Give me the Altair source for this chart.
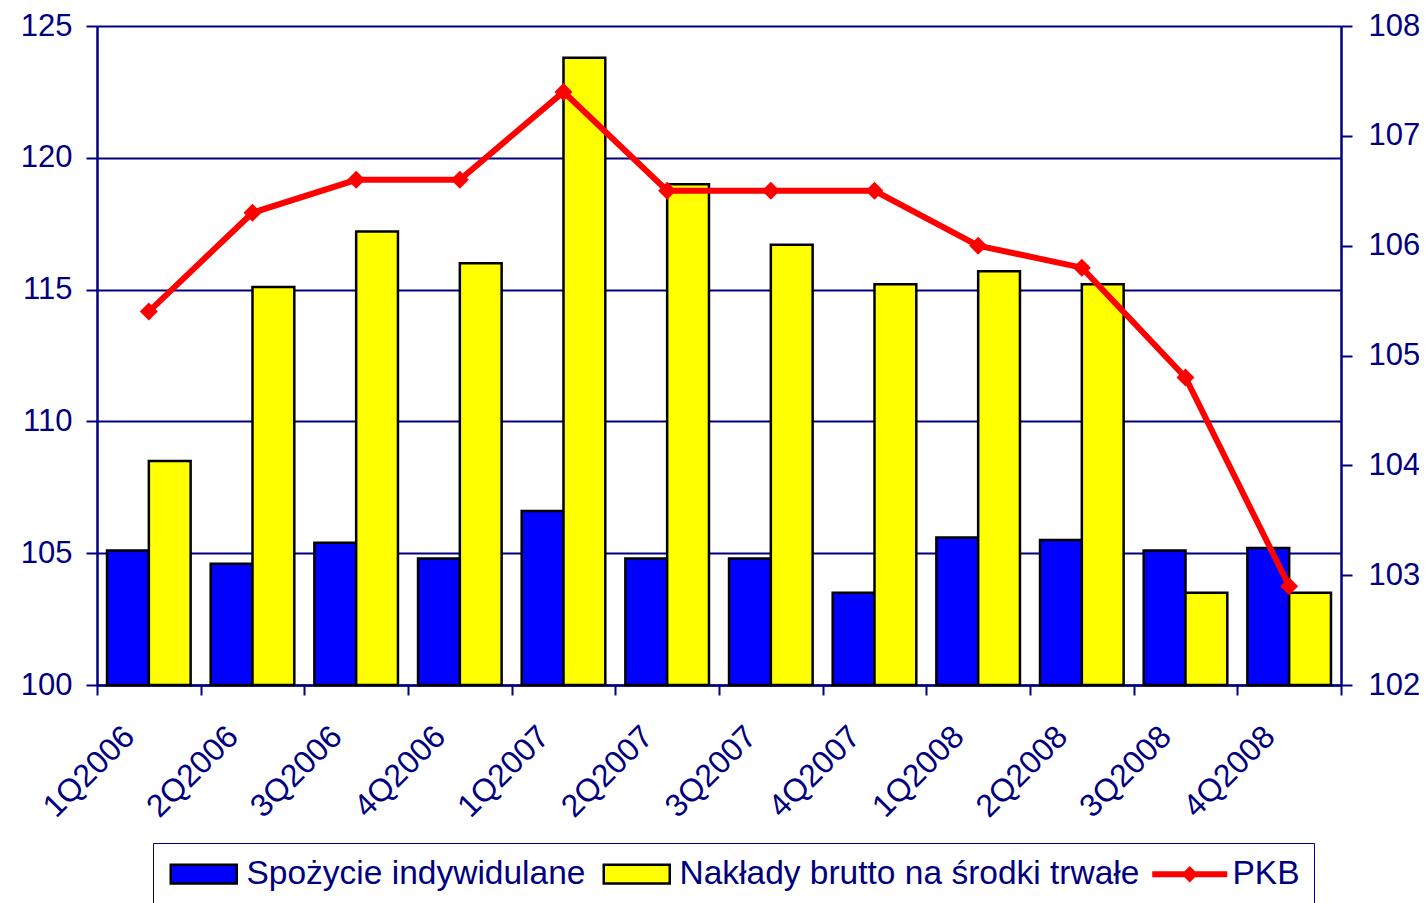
import altair as alt
import pandas as pd

quarters = ["1Q2006", "2Q2006", "3Q2006", "4Q2006", "1Q2007", "2Q2007",
            "3Q2007", "4Q2007", "1Q2008", "2Q2008", "3Q2008", "4Q2008"]
spozycie = [105.1, 104.6, 105.4, 104.8, 106.6, 104.8, 104.8, 103.5, 105.6, 105.5, 105.1, 105.2]
naklady = [108.5, 115.1, 117.2, 116.0, 123.8, 119.0, 116.7, 115.2, 115.7, 115.2, 103.5, 103.5]
pkb = [105.4, 106.3, 106.6, 106.6, 107.4, 106.5, 106.5, 106.5, 106.0, 105.8, 104.8, 102.9]

series_names = ["Spożycie indywidulane", "Nakłady brutto na środki trwałe", "PKB"]
series_colors = ["#0000ff", "#ffff00", "#ff0000"]
series_strokes = ["#000000", "#000000", "#ff0000"]
left_ticks = [100, 105, 110, 115, 120, 125]
right_ticks = [102, 103, 104, 105, 106, 107, 108]

NAVY = "#000080"
FONT = "Liberation Sans"

bars_df = pd.DataFrame(
    [{"q": q, "series": series_names[0], "value": v} for q, v in zip(quarters, spozycie)]
    + [{"q": q, "series": series_names[1], "value": v} for q, v in zip(quarters, naklady)]
)
line_df = pd.DataFrame({"q": quarters, "series": series_names[2], "value": pkb})

color_scale = alt.Scale(domain=series_names, range=series_colors)
stroke_scale = alt.Scale(domain=series_names, range=series_strokes)


def make_legend():
    return alt.Legend(
        title=None,
        orient="none",
        legendX=56,
        legendY=817,
        direction="horizontal",
        columns=3,
        labelFont=FONT,
        labelFontSize=33.5,
        labelColor=NAVY,
        labelLimit=2000,
        labelOffset=26,
        columnPadding=12,
        padding=14,
        strokeColor=NAVY,
        fillColor="white",
        symbolSize=900,
        symbolOffset=20,
        symbolType={"expr": "datum.index === 2 ? 'M-2.5,-0.2H2.5V0.2H-2.5Z M0,-0.55L0.55,0L0,0.55L-0.55,0Z' : 'M-2.2,-0.62H2.2V0.62H-2.2Z'"},
        symbolStrokeWidth={"expr": "datum.index === 2 ? 0 : 2.5"},
        symbolOpacity=1,
    )


x_enc = alt.X(
    "q:N",
    sort=quarters,
    scale=alt.Scale(paddingInner=0, paddingOuter=0),
    axis=alt.Axis(
        title=None,
        labelAngle=315,
        labelAlign="right",
        labelBaseline="middle",
        labelFont=FONT,
        labelFontSize=32,
        labelColor=NAVY,
        labelPadding=36,
        labelOffset=-20,
        tickBand="extent",
        tickSize=10,
        tickWidth=2,
        tickColor=NAVY,
        domainColor=NAVY,
        domainWidth=2.5,
        grid=False,
    ),
)

bars = alt.Chart(bars_df).mark_bar(strokeWidth=2.5).encode(
    x=x_enc,
    xOffset=alt.XOffset("series:N", sort=series_names[:2],
                        scale=alt.Scale(paddingInner=0, paddingOuter=0.24)),
    y=alt.Y(
        "value:Q",
        scale=alt.Scale(domain=[100, 125], nice=False, zero=False),
        axis=alt.Axis(
            title=None,
            values=left_ticks,
            orient="left",
            labelFont=FONT,
            labelFontSize=31,
            labelColor=NAVY,
            labelPadding=14,
            tickSize=11,
            tickWidth=2,
            tickColor=NAVY,
            domainColor=NAVY,
            domainWidth=2.5,
            grid=True,
            gridColor=NAVY,
            gridWidth=2,
            gridOpacity=1,
        ),
    ),
    y2=alt.datum(100),
    color=alt.Color("series:N", scale=color_scale, legend=make_legend()),
    stroke=alt.Stroke("series:N", scale=stroke_scale, legend=make_legend()),
)

line = alt.Chart(line_df).mark_line(
    strokeWidth=6,
    point=alt.OverlayMarkDef(shape="diamond", size=230, filled=True, color="#ff0000"),
).encode(
    x=alt.X("q:N", sort=quarters),
    y=alt.Y(
        "value:Q",
        scale=alt.Scale(domain=[102, 108], nice=False, zero=False),
        axis=alt.Axis(
            title=None,
            values=right_ticks,
            orient="right",
            labelFont=FONT,
            labelFontSize=31,
            labelColor=NAVY,
            labelPadding=16,
            tickSize=11,
            tickWidth=2,
            tickColor=NAVY,
            domainColor=NAVY,
            domainWidth=2.5,
            grid=False,
        ),
    ),
    color=alt.Color("series:N", scale=color_scale, legend=make_legend()),
    stroke=alt.Stroke("series:N", scale=stroke_scale, legend=make_legend()),
)

chart = (
    alt.layer(bars, line)
    .resolve_scale(y="independent")
    .properties(
        width=1244,
        height=659,
        autosize=alt.AutoSizeParams(type="none"),
        padding={"left": 89, "top": 18, "right": 78, "bottom": 220},
        background="white",
    )
    .configure_view(stroke=None)
)

chart.save("out.html", embed_options={"renderer": "svg", "actions": False})
